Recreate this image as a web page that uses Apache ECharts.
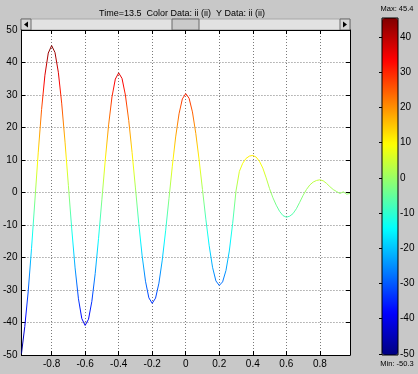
<!DOCTYPE html>
<html>
<head>
<meta charset="utf-8">
<script src="https://cdn.jsdelivr.net/npm/echarts@6/dist/echarts.min.js"></script>
<style>
html,body{margin:0;padding:0;background:#c8c8c8;}
#main{width:418px;height:374px;}
</style>
</head>
<body>
<div id="main"></div>
<script>
// ---- data ----
const xValues = [-0.98,-0.96,-0.94,-0.92,-0.90,-0.88,-0.86,-0.84,-0.82,-0.80,
  -0.78,-0.76,-0.74,-0.72,-0.70,-0.68,-0.66,-0.64,-0.62,-0.60,
  -0.58,-0.56,-0.54,-0.52,-0.50,-0.48,-0.46,-0.44,-0.42,-0.40,
  -0.38,-0.36,-0.34,-0.32,-0.30,-0.28,-0.26,-0.24,-0.22,-0.20,
  -0.18,-0.16,-0.14,-0.12,-0.10,-0.08,-0.06,-0.04,-0.02,0.00,
  0.02,0.04,0.06,0.08,0.10,0.12,0.14,0.16,0.18,0.20,
  0.22,0.24,0.26,0.28,0.30,0.32,0.34,0.36,0.38,0.40,
  0.42,0.44,0.46,0.48,0.50,0.52,0.54,0.56,0.58,0.60,
  0.62,0.64,0.66,0.68,0.70,0.72,0.74,0.76,0.78,0.80,
  0.82,0.84,0.86,0.88,0.90,0.92,0.94,0.96,0.98];
const yValues = [-49.6,-41.2,-30.6,-17.3,-2.6,12.2,25.5,36.1,42.9,45.2,
  43.1,37.0,27.5,15.5,2.2,-11.2,-23.2,-32.7,-38.8,-40.9,
  -39.0,-33.5,-24.9,-14.1,-2.1,10.0,20.8,29.4,34.9,36.8,
  35.1,30.0,22.2,12.3,1.4,-9.6,-19.5,-27.3,-32.4,-34.1,
  -32.5,-27.9,-20.8,-11.8,-1.9,8.1,17.1,24.2,28.8,30.4,
  29.0,24.8,18.2,10.0,0.9,-8.2,-16.4,-23.0,-27.2,-28.6,
  -27.5,-24.0,-18.0,-9.5,0.5,6.5,9.0,10.5,11.2,11.4,
  10.9,9.6,7.5,4.5,1.2,-1.6,-3.9,-5.8,-7.1,-7.6,
  -7.3,-6.5,-5.0,-3.0,-0.9,0.9,2.3,3.2,3.7,3.9,
  3.6,2.8,1.8,0.9,0.3,-0.3,0.2,-0.5,-0.3];
const xTicks = [-0.8,-0.6,-0.4,-0.2,0,0.2,0.4,0.6,0.8];
const colorTicks = [40,30,20,10,0,-10,-20,-30,-40,-50];
const dataMin = -50.3;
const dataMax = 45.4;
const titleText = 'Time=13.5  Color Data: ii (ii)  Y Data: ii (ii)';

const jet = ['#000080','#0000ff','#0080ff','#00ffff','#80ff80','#ffff00','#ff8000','#ff0000','#800000'];
const font = "'Liberation Sans', Arial, sans-serif";
const chart = echarts.init(document.getElementById('main'), null, {renderer:'canvas'});
const grid = {left:21, top:30, width:329, height:325};

chart.setOption({
  backgroundColor:'#c8c8c8',
  animation:false,
  textStyle:{fontFamily:font},
  grid:[
    {left:grid.left, top:grid.top, width:grid.width, height:grid.height, show:true, backgroundColor:'#ffffff', borderWidth:0},
    {left:382, top:18, width:16, height:337, show:true, backgroundColor:'transparent', borderColor:'#000', borderWidth:1, z:10}
  ],
  xAxis:[
    {type:'value', gridIndex:0, min:-0.98, max:0.98, position:'bottom',
      axisLine:{show:true, onZero:false, lineStyle:{color:'#000', width:1}},
      axisTick:{show:true, inside:true, length:4, customValues:xTicks, lineStyle:{color:'#000'}},
      axisLabel:{show:true, customValues:xTicks, color:'#000', fontSize:10, fontFamily:font, margin:4},
      splitLine:{show:true, lineStyle:{color:'#7a7a7a', type:[1,2], width:1}}},
    {type:'value', gridIndex:0, min:-0.98, max:0.98, position:'top',
      axisLine:{show:true, onZero:false, lineStyle:{color:'#000', width:1}},
      axisTick:{show:true, inside:true, length:4, customValues:xTicks, lineStyle:{color:'#000'}},
      axisLabel:{show:false}, splitLine:{show:false}},
    {type:'value', gridIndex:1, show:false, min:0, max:1}
  ],
  yAxis:[
    {type:'value', gridIndex:0, min:-50, max:50, interval:10, position:'left',
      axisLine:{show:true, onZero:false, lineStyle:{color:'#000', width:1}},
      axisTick:{show:true, inside:true, length:4, lineStyle:{color:'#000'}},
      axisLabel:{show:true, color:'#000', fontSize:10, fontFamily:font, margin:4, showMinLabel:true, showMaxLabel:true},
      splitLine:{show:true, lineStyle:{color:'#7a7a7a', type:[1,2], width:1}}},
    {type:'value', gridIndex:0, min:-50, max:50, interval:10, position:'right',
      axisLine:{show:true, onZero:false, lineStyle:{color:'#000', width:1}},
      axisTick:{show:true, inside:true, length:4, lineStyle:{color:'#000'}},
      axisLabel:{show:false}, splitLine:{show:false}},
    {type:'value', gridIndex:1, min:dataMin, max:dataMax, position:'right',
      axisLine:{show:false},
      axisTick:{show:true, inside:true, length:3, customValues:colorTicks, lineStyle:{color:'#000'}},
      axisLabel:{show:true, customValues:colorTicks, color:'#000', fontSize:10, fontFamily:font, margin:2},
      splitLine:{show:false}}
  ],
  visualMap:{
    type:'continuous', show:true, seriesIndex:0, dimension:1,
    min:dataMin, max:dataMax, left:382, top:18, itemWidth:16, itemHeight:337,
    padding:0, calculable:false, text:null, hoverLink:false,
    inRange:{color:jet}
  },
  series:[{
    type:'line', xAxisIndex:0, yAxisIndex:0,
    data:xValues.map((x,i)=>[x,yValues[i]]),
    showSymbol:false, symbol:'none', smooth:false,
    lineStyle:{width:1}, z:5
  }],
  graphic:[
    {type:'text', x:182, y:14, style:{text:titleText, textAlign:'center', textVerticalAlign:'middle', fill:'#000', font:'9px '+font}},
    // slider track
    {type:'rect', shape:{x:21, y:19, width:329, height:11}, style:{fill:'#e2e2e2', stroke:'#a8a8a8', lineWidth:1}},
    // left button
    {type:'rect', shape:{x:21, y:19, width:10, height:11}, style:{fill:'#d6d6d6', stroke:'#6a6a6a', lineWidth:1}},
    {type:'polygon', shape:{points:[[24,24.5],[28,21.5],[28,27.5]]}, style:{fill:'#000'}},
    // right button
    {type:'rect', shape:{x:340, y:19, width:10, height:11}, style:{fill:'#d6d6d6', stroke:'#6a6a6a', lineWidth:1}},
    {type:'polygon', shape:{points:[[347,24.5],[343,21.5],[343,27.5]]}, style:{fill:'#000'}},
    // thumb
    {type:'rect', shape:{x:172, y:19, width:27, height:11}, style:{fill:'#cacaca', stroke:'#6a6a6a', lineWidth:1}},
    {type:'text', x:397, y:9, style:{text:'Max: 45.4', textAlign:'center', textVerticalAlign:'middle', fill:'#000', font:'7.5px '+font}},
    {type:'text', x:397, y:364, style:{text:'Min: -50.3', textAlign:'center', textVerticalAlign:'middle', fill:'#000', font:'7.5px '+font}}
  ]
});
</script>
</body>
</html>
